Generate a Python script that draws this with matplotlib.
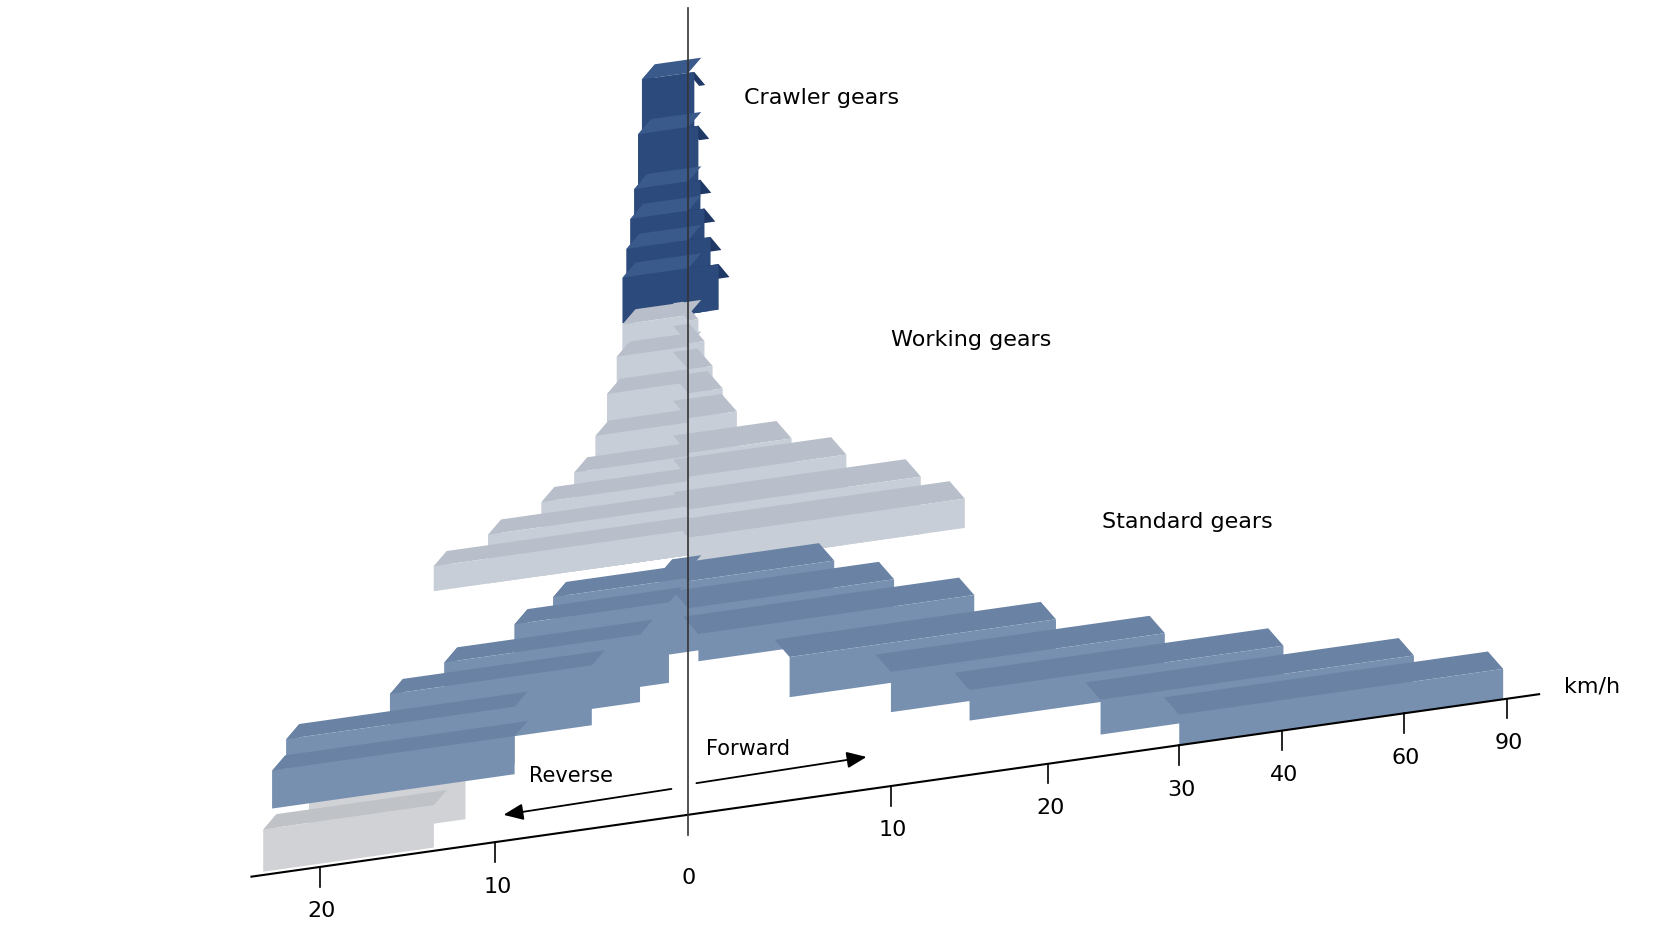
import numpy as np
import matplotlib
matplotlib.use("Agg")
import matplotlib.pyplot as plt
from matplotlib.patches import Polygon

# --- speed axis (km/h) ---
fwd_ticks = [0, 10, 20, 30, 40, 60, 90]
rev_ticks = [0, 10, 20]

# --- gear rows: (lo, hi) km/h, front-face bottom/top heights ---
crawler_fwd_hi = [0.3, 0.5, 0.6, 0.8, 1.1, 1.5]
crawler_rev_hi = [2.4, 2.6, 2.8, 3.0, 3.2, 3.4]
crawler_top = [683, 633, 583, 556, 529, 503]
crawler_bot = 461

work_fwd_hi = [0.5, 0.8, 1.2, 1.7, 2.4, 5.1, 7.8, 11.9, 14.7]
work_fwd_top = [455, 434, 410, 388, 365, 333, 311, 281, 255]
work_fwd_bot = 228
work_rev_hi = [3.4, 3.7, 4.2, 4.8, 5.9, 7.6, 10.4, 13.5]
work_rev_top = [460, 431, 398, 361, 330, 307, 284, 262]
work_rev_bot = 239
work_rev_low_lo = [11.7, 13.5]
work_rev_low_hi = [20.6, 23.2]
work_rev_low_bot = [25, 3]
work_rev_low_top = [62, 42]

std_fwd_lo = [0, 0, 0.5, 5, 10, 15, 24, 30]
std_fwd_hi = [7.2, 10.2, 15.3, 20.6, 28.9, 40.2, 63, 89]
std_fwd_bot = [160, 150, 140, 95, 68, 50, 20, 0]
std_fwd_top = [215, 190, 165, 132, 105, 78, 52, 28]
std_rev_lo = [0, 0, 1, 2.5, 5, 9, 9]
std_rev_hi = [1.5, 7.0, 9.0, 12.9, 16.0, 21.9, 22.7]
std_rev_bot = [160, 150, 124, 110, 95, 70, 60]
std_rev_top = [225, 218, 198, 172, 150, 122, 95]

# layout (pixel frame 1550 x 870)
fwd_px = [635, 822, 967, 1088, 1183, 1295, 1390]
rev_px = [635, 457, 295, 214]
rev_px_ticks = [0, 10, 20, 25]


def X(s):
    if s >= 0:
        return np.interp(s, fwd_ticks, fwd_px)
    return np.interp(-s, rev_px_ticks, rev_px)


def base(x):
    return 808 - 0.1414 * (x - 232)


def pt(s, z):
    x = X(s)
    return (x, base(x) - z)


fig = plt.figure(figsize=(16.8, 9.45), dpi=100)
ax = fig.add_axes([0, 0, 1, 1])
ax.set_xlim(0, 1550)
ax.set_ylim(870, 0)
ax.axis("off")


def bar(lo, hi, z0, z1, face, top, d, z=2, end=True):
    a, b = pt(lo, z1), pt(hi, z1)
    topf = [a, b, (b[0] + d[0], b[1] + d[1]), (a[0] + d[0], a[1] + d[1])]
    c = pt(hi, z0)
    endf = [c, b, (b[0] + d[0], b[1] + d[1]), (c[0] + d[0], c[1] + d[1])]
    if end:
        ax.add_patch(Polygon(endf, closed=True, fc=top, ec="none", zorder=z))
    ax.add_patch(Polygon(topf, closed=True, fc=top, ec="none", zorder=z))
    front = [pt(lo, z0), pt(hi, z0), b, a]
    ax.add_patch(Polygon(front, closed=True, fc=face, ec="none", zorder=z))


dF, dR = (-14, -16), (12, -14)

# crawler
for f, r, t in zip(crawler_fwd_hi, crawler_rev_hi, crawler_top):
    bar(0, -r, crawler_bot, t, "#2c4a7b", "#3a5a8c", dR)
    bar(0, f, crawler_bot, t, "#2c4a7b", "#1f3866", (10, 12), end=False)

# working
for r, t in zip(work_rev_hi, work_rev_top):
    bar(0, -r, work_rev_bot, t, "#c8ced7", "#b8bfca", dR)
for f, t in zip(work_fwd_hi, work_fwd_top):
    bar(0, f, work_fwd_bot, t, "#c8ced7", "#b8bfca", dF, end=False)
for lo, hi, b0, t in zip(work_rev_low_lo, work_rev_low_hi, work_rev_low_bot, work_rev_low_top):
    bar(-lo, -hi, b0, t, "#d0d2d5", "#bfc2c6", dR)

# standard
for lo, hi, b0, t in zip(std_rev_lo, std_rev_hi, std_rev_bot, std_rev_top):
    bar(-lo, -hi, b0, t, "#7890b0", "#6a82a4", dR, z=3)
for lo, hi, b0, t in zip(std_fwd_lo, std_fwd_hi, std_fwd_bot, std_fwd_top):
    bar(lo, hi, b0, t, "#7890b0", "#6a82a4", dF, z=3, end=False)

# axis
ax.plot([232, 1420], [base(232), base(1420)], color="black", lw=1.5, zorder=5)
ax.plot([635, 635], [8, 770], color="#333333", lw=1.2, zorder=6)
for v, x in zip(fwd_ticks[1:], fwd_px[1:]):
    ax.plot([x, x], [base(x), base(x) + 18], color="black", lw=1.2, zorder=5)
    ax.text(x + 2, base(x) + 40, str(v), ha="center", va="center", fontsize=16, zorder=5)
for v, x in zip(rev_ticks[1:], rev_px[1:3]):
    ax.plot([x, x], [base(x), base(x) + 18], color="black", lw=1.2, zorder=5)
    ax.text(x + 2, base(x) + 40, str(v), ha="center", va="center", fontsize=16, zorder=5)
ax.text(635, 808, "0", ha="center", va="center", fontsize=16, zorder=5)
ax.text(1443, 632, "km/h", ha="left", va="center", fontsize=16)

# direction arrows
ax.annotate("", xy=(802, base(802) - 30), xytext=(640, base(640) - 28),
            arrowprops=dict(arrowstyle="-|>,head_length=1.2,head_width=0.5", color="black", lw=1.3))
ax.annotate("", xy=(462, base(462) - 24), xytext=(622, base(622) - 26),
            arrowprops=dict(arrowstyle="-|>,head_length=1.2,head_width=0.5", color="black", lw=1.3))
ax.text(651, 690, "Forward", ha="left", va="center", fontsize=15)
ax.text(488, 714, "Reverse", ha="left", va="center", fontsize=15)

ax.text(686, 90, "Crawler gears", ha="left", va="center", fontsize=16)
ax.text(822, 313, "Working gears", ha="left", va="center", fontsize=16)
ax.text(1017, 481, "Standard gears", ha="left", va="center", fontsize=16)

fig.savefig("out.png", dpi=100)
